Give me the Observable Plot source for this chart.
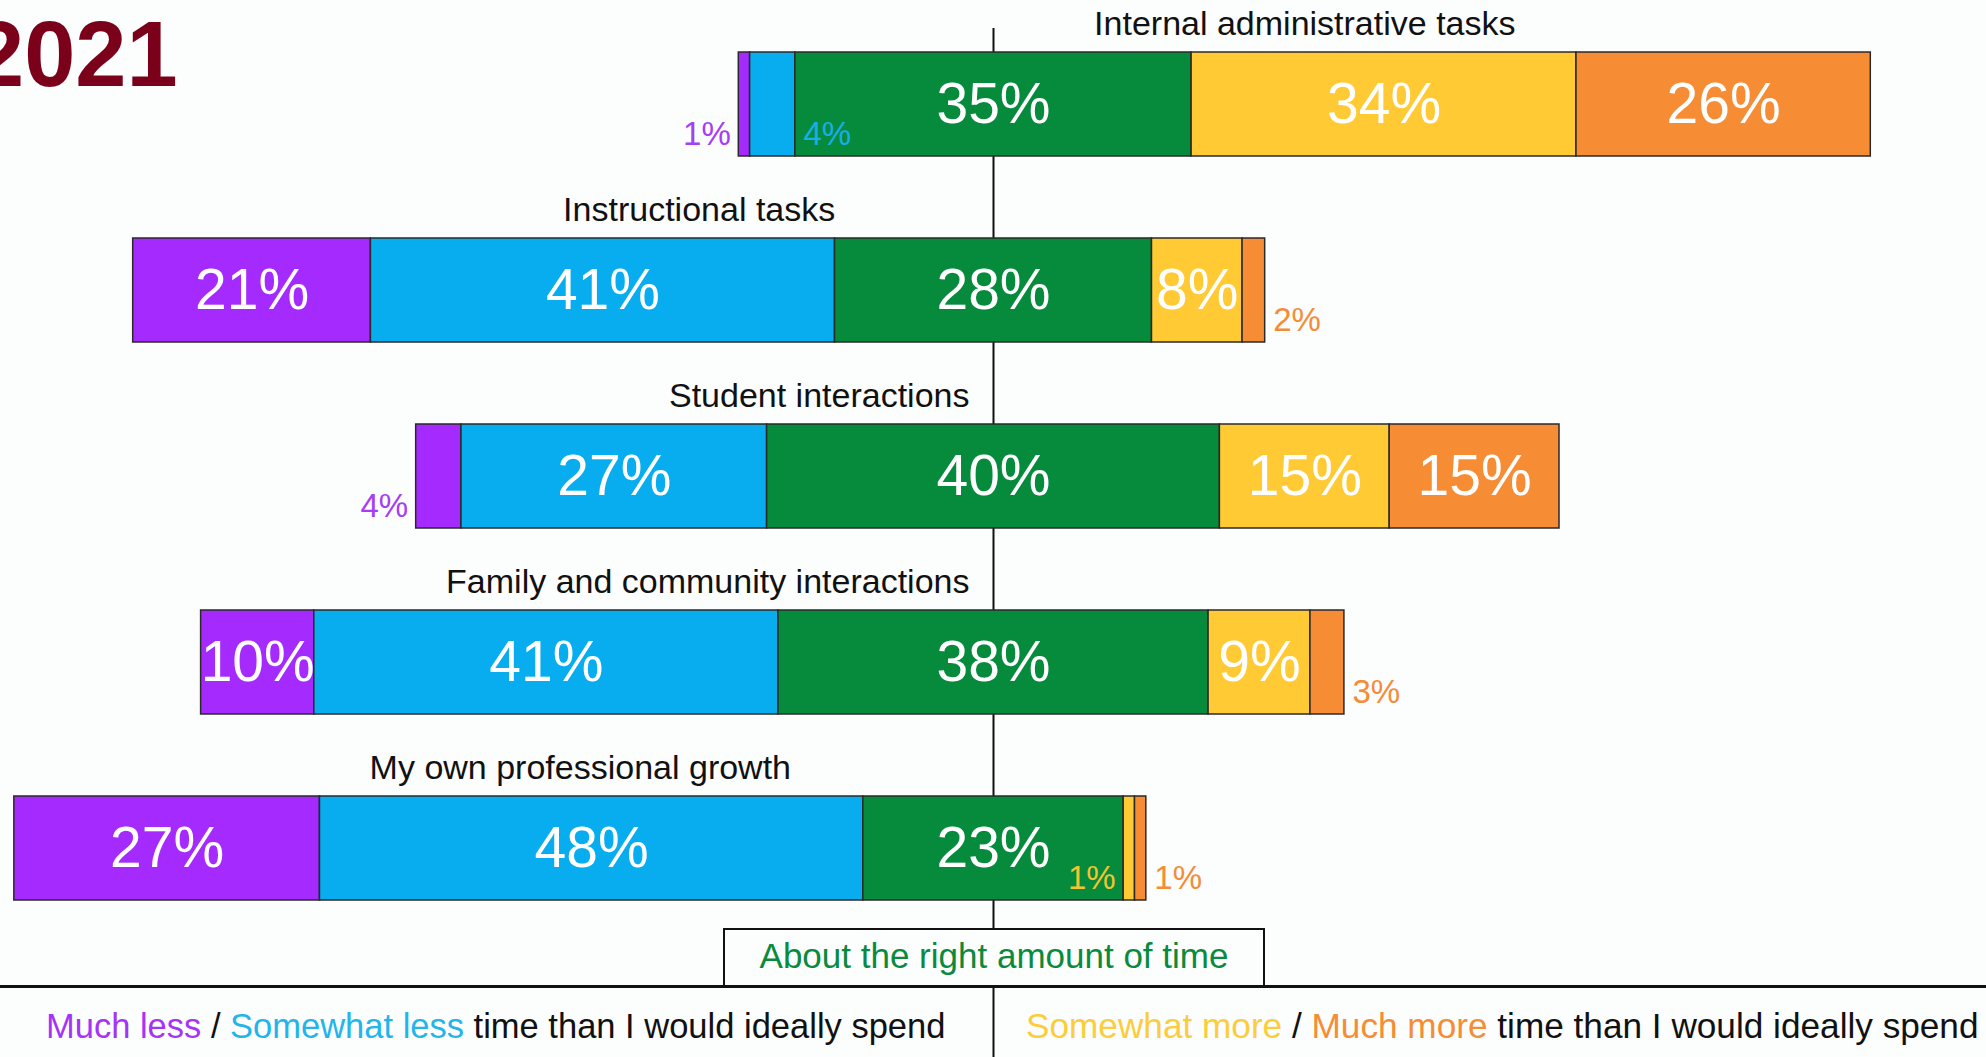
<!DOCTYPE html>
<html><head><meta charset="utf-8">
<script src="https://cdn.jsdelivr.net/npm/d3@7"></script>
<script src="https://cdn.jsdelivr.net/npm/@observablehq/plot@0.6"></script>
<style>
html,body{margin:0;padding:0;background:#fcfdfd;}
#wrap{position:relative;width:1986px;height:1057px;overflow:hidden;font-family:"Liberation Sans",Arial,sans-serif;}
#wrap svg{position:absolute;left:0;top:0;background:transparent;}
.ov{position:absolute;white-space:nowrap;line-height:1;}
</style></head><body><div id="wrap"></div>
<script>
// ---- data ----
const categories = ["Internal administrative tasks","Instructional tasks","Student interactions","Family and community interactions","My own professional growth"];
const seriesNames = ["Much less","Somewhat less","About the right amount of time","Somewhat more","Much more"];
const muchLess     = [1, 21, 4, 10, 27];
const somewhatLess = [4, 41, 27, 41, 48];
const aboutRight   = [35, 28, 40, 38, 23];
const somewhatMore = [34, 8, 15, 9, 1];
const muchMore     = [26, 2, 15, 3, 1];
const seriesColors = ["#a42afe","#07adee","#068a3c","#ffca33","#f68d35"];
const smallColors  = ["#a53ef6","#18aeea","#068a3c","#f3c42e","#f48c38"];

const seriesValues = [muchLess, somewhatLess, aboutRight, somewhatMore, muchMore];
const FONT = '"Liberation Sans", Arial, sans-serif';

// ---- derived table ----
const segments = [];
const bars = [];
categories.forEach((c, i) => {
  let x = -(muchLess[i] + somewhatLess[i] + aboutRight[i] / 2);
  const left = x;
  seriesValues.forEach((vals, k) => {
    const v = vals[i];
    segments.push({category: c, k, value: v, x1: x, x2: x + v});
    x += v;
  });
  bars.push({category: c, left, right: x, center: (left + x) / 2});
});

const W = 1986, H = 1057, X0 = 993, PXPCT = 11.32;
const xDomain = [-X0 / PXPCT, (W - X0) / PXPCT];

// label placement: centered over bar unless it would cross the centre line
const ctx = document.createElement("canvas").getContext("2d");
ctx.font = `34px ${FONT}`;
bars.forEach(b => {
  const w = ctx.measureText(b.category).width / PXPCT;
  b.cross = (b.center - w / 2 < 0) && (b.center + w / 2 > 0);
});

const big = segments.filter(d => d.value >= 5);
const small = segments.filter(d => d.value < 5);
const smallLeft = small.filter(d => d.k === 0 || d.k === 3);
const smallRight = small.filter(d => d.k === 1 || d.k === 4);

const chart = Plot.plot({
  width: W, height: H,
  marginLeft: 0, marginRight: 0, marginTop: 28, marginBottom: 0,
  style: {background: "transparent", fontFamily: FONT},
  x: {domain: xDomain, axis: null},
  y: {domain: categories, range: [52, 900], paddingInner: 0.441, paddingOuter: 0, axis: null},
  marks: [
    Plot.ruleX([0], {stroke: "#111", strokeWidth: 2}),
    Plot.barX(segments, {x1: "x1", x2: "x2", y: "category", fill: d => seriesColors[d.k], stroke: "#2a2a2a", strokeWidth: 1.5}),
    Plot.text(big, {x: d => (d.x1 + d.x2) / 2, y: "category", text: d => d.value + "%", fill: "white", fontSize: 57, lineAnchor: "middle"}),
    Plot.text(smallLeft, {x: "x1", y: "category", text: d => d.value + "%", fill: d => smallColors[d.k], fontSize: 33, textAnchor: "end", dx: -8, dy: 30, lineAnchor: "middle"}),
    Plot.text(smallRight, {x: "x2", y: "category", text: d => d.value + "%", fill: d => smallColors[d.k], fontSize: 33, textAnchor: "start", dx: 8, dy: 30, lineAnchor: "middle"}),
    Plot.text(bars.filter(b => !b.cross), {x: "center", y: "category", text: "category", fill: "#111", fontSize: 34, lineAnchor: "bottom", dy: -69.5}),
    Plot.text(bars.filter(b => b.cross), {x: () => 0, y: "category", text: "category", fill: "#111", fontSize: 34, lineAnchor: "bottom", textAnchor: "end", dx: -24, dy: -69.5})
  ]
});

const wrap = document.getElementById("wrap");
wrap.appendChild(chart);

function ov(html, css) {
  const d = document.createElement("div");
  d.className = "ov";
  d.innerHTML = html;
  Object.assign(d.style, css);
  wrap.appendChild(d);
  return d;
}
// title (partly cut at the left edge, as in the source)
ov("2021", {left: "-27px", top: "2px", font: `700 92px ${FONT}`, color: "#7b0019"});
// neutral box
ov(seriesNames[2], {left: "723px", top: "928px", width: "542px", height: "59px", boxSizing: "border-box",
  border: "2.5px solid #111", background: "#fcfdfd", color: "#0b8a3e", fontSize: "35px",
  textAlign: "center", lineHeight: "52px"});
// horizontal rule
ov("", {left: "0px", top: "985px", width: W + "px", height: "2.5px", background: "#111"});
// bottom legend
ov(`<span style="color:#a634f6">${seriesNames[0]}</span> / <span style="color:#23b5ea">${seriesNames[1]}</span> time than I would ideally spend`,
  {left: "46px", top: "1009px", fontSize: "34.5px", color: "#111"});
ov(`<span style="color:#fbcd3c">${seriesNames[3]}</span> / <span style="color:#f58d36">${seriesNames[4]}</span> time than I would ideally spend`,
  {left: "1026px", top: "1008px", fontSize: "35.2px", color: "#111"});
</script>
</body></html>
